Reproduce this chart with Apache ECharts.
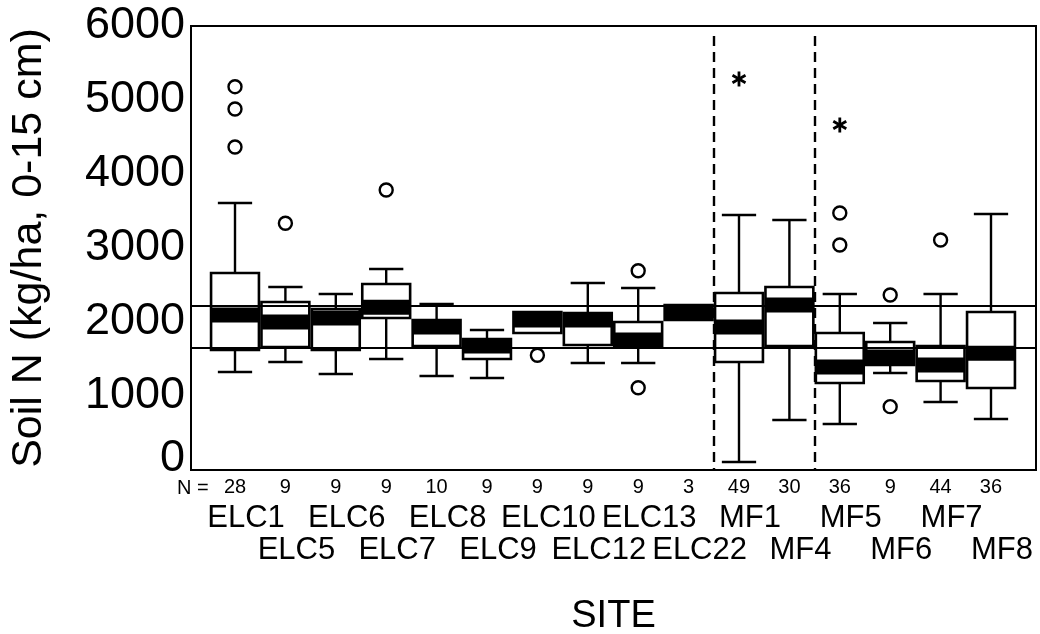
<!DOCTYPE html>
<html><head><meta charset="utf-8">
<script src="https://cdn.jsdelivr.net/npm/echarts@6/dist/echarts.min.js"></script>
<style>html,body{margin:0;padding:0;background:#fff}#c{width:1040px;height:634px}</style>
</head><body><div id="c"></div>
<script>
// ---- data ----
const sites = ['ELC1','ELC5','ELC6','ELC7','ELC8','ELC9','ELC10','ELC12','ELC13','ELC22','MF1','MF4','MF5','MF6','MF7','MF8'];
const nCounts = [28, 9, 9, 9, 10, 9, 9, 9, 9, 3, 49, 30, 36, 9, 44, 36];
const whiskerLow  = [1324, 1459, 1297, 1500, 1270, 1243, 1851, 1446, 1446, 2027,  108,  676,  622, 1311,  919,  689];
const q1          = [1622, 1662, 1622, 2054, 1676, 1500, 1851, 1689, 1662, 2027, 1459, 1676, 1176, 1419, 1203, 1108];
const median      = [2095, 2000, 2054, 2200, 1932, 1676, 2027, 2027, 1757, 2128, 1932, 2230, 1392, 1527, 1419, 1578];
const q3          = [2662, 2270, 2176, 2514, 2027, 1770, 2135, 2122, 2000, 2230, 2392, 2473, 1851, 1730, 1676, 2135];
const whiskerHigh = [3608, 2473, 2378, 2716, 2243, 1892, 2135, 2527, 2459, 2230, 3446, 3378, 2378, 1986, 2378, 3459];
// outliers (circles) and extremes (stars)
const outlierSite  = ['ELC1','ELC1','ELC1','ELC5','ELC7','ELC10','ELC13','ELC13','MF5','MF5','MF6','MF6','MF7'];
const outlierValue = [5180, 4878, 4365, 3334, 3784, 1550, 2693, 1112, 3473, 3041, 2365, 856, 3108];
const extremeSite  = ['MF1','MF5'];
const extremeValue = [5284, 4662];
// horizontal reference lines
const refLines = [2216, 1649];
// dashed group separators come after these sites
const groupBreakAfter = ['ELC22','MF4'];
const yTicks = [0, 1000, 2000, 3000, 4000, 5000, 6000];
const yTitle = 'Soil N (kg/ha, 0-15 cm)';
const xTitle = 'SITE';

// ---- chart ----
const FONT = "'Liberation Sans', Arial, sans-serif";
const chart = echarts.init(document.getElementById('c'));
const idx = sites.map((s, i) => i);
const boxData = sites.map((s, i) => [i, whiskerLow[i], q1[i], median[i], q3[i], whiskerHigh[i]]);
const outlierData = outlierSite.map((s, k) => [sites.indexOf(s), outlierValue[k]]);
const extremeData = extremeSite.map((s, k) => [sites.indexOf(s), extremeValue[k]]);
const breaks = groupBreakAfter.map(s => sites.indexOf(s) + 0.5);

function renderBox(params, api) {
  const i = api.value(0);
  const lo = api.coord([i, api.value(1)]);
  const pq1 = api.coord([i, api.value(2)]);
  const pm = api.coord([i, api.value(3)]);
  const pq3 = api.coord([i, api.value(4)]);
  const hi = api.coord([i, api.value(5)]);
  const band = api.size([1, 0])[0];
  const bw = band * 0.95, cw = band * 0.68;
  const x = pm[0];
  const ls = { stroke: '#000', lineWidth: 2.4, fill: null };
  const ch = [];
  if (hi[1] < pq3[1] - 0.5) {
    ch.push({ type: 'line', shape: { x1: x, y1: hi[1], x2: x, y2: pq3[1] }, style: ls });
    ch.push({ type: 'line', shape: { x1: x - cw / 2, y1: hi[1], x2: x + cw / 2, y2: hi[1] }, style: ls });
  }
  if (lo[1] > pq1[1] + 0.5) {
    ch.push({ type: 'line', shape: { x1: x, y1: pq1[1], x2: x, y2: lo[1] }, style: ls });
    ch.push({ type: 'line', shape: { x1: x - cw / 2, y1: lo[1], x2: x + cw / 2, y2: lo[1] }, style: ls });
  }
  ch.push({ type: 'rect', shape: { x: x - bw / 2, y: pq3[1], width: bw, height: pq1[1] - pq3[1] },
    style: { fill: '#fff', stroke: '#000', lineWidth: 2.6 } });
  const h = 15;
  const top = Math.max(pm[1] - h / 2, pq3[1]);
  const bot = Math.min(pm[1] + h / 2, pq1[1]);
  ch.push({ type: 'rect', shape: { x: x - bw / 2, y: top, width: bw, height: bot - top }, style: { fill: '#000' } });
  return { type: 'group', children: ch };
}

function renderStar(params, api) {
  const p = api.coord([api.value(0), api.value(1)]);
  const r = 7.5;
  const ch = [];
  for (let k = 0; k < 3; k++) {
    const a = Math.PI / 2 + k * Math.PI / 3;
    ch.push({ type: 'line', shape: { x1: p[0] - r * Math.cos(a), y1: p[1] - r * Math.sin(a), x2: p[0] + r * Math.cos(a), y2: p[1] + r * Math.sin(a) },
      style: { stroke: '#000', lineWidth: 2.8 } });
  }
  return { type: 'group', children: ch };
}

function labelAxis(values, margin, fmt, rich, extra) {
  return Object.assign({
    type: 'value', min: -0.873, max: 15.893, position: 'bottom',
    splitLine: { show: false }, axisLine: { show: false }, axisTick: { show: false },
    axisLabel: {
      customValues: values, margin: margin, color: '#000', fontFamily: FONT,
      showMinLabel: true, showMaxLabel: true, hideOverlap: false,
      formatter: fmt, rich: rich
    }
  }, extra || {});
}

const nameRich = { a: { fontSize: 31, lineHeight: 32, fontFamily: FONT, color: '#000', padding: [0, 0, 0, 22] } };

chart.setOption({
  animation: false,
  backgroundColor: '#fff',
  grid: { left: 191, right: 4, top: 26, bottom: 164, show: true, borderColor: '#000', borderWidth: 2,
    backgroundColor: 'transparent', containLabel: false, outerBoundsMode: 'none' },
  xAxis: [
    labelAxis(idx, 4, v => `{n|${nCounts[Math.round(v)]}}`,
      { n: { fontSize: 20, lineHeight: 26, fontFamily: FONT, color: '#000' } },
      { name: xTitle, nameLocation: 'middle', nameGap: 128, nameTextStyle: { fontSize: 38, fontFamily: FONT, color: '#000' } }),
    labelAxis(idx.filter(i => i % 2 === 0), 32, v => `{a|${sites[Math.round(v)]}}`, nameRich),
    labelAxis(idx.filter(i => i % 2 === 1), 64, v => `{a|${sites[Math.round(v)]}}`, nameRich)
  ],
  yAxis: {
    type: 'value', min: 0, max: 6000, interval: 1000,
    splitLine: { show: false }, axisLine: { show: false }, axisTick: { show: false },
    axisLabel: {
      customValues: yTicks, fontSize: 45, color: '#000', fontFamily: FONT, margin: 6,
      showMinLabel: true, showMaxLabel: true,
      formatter: v => v === 0 ? '{z|0}' : String(v),
      rich: { z: { fontSize: 45, fontFamily: FONT, color: '#000', padding: [0, 0, 22, 0] } }
    },
    name: yTitle, nameLocation: 'middle', nameRotate: 90, nameGap: 140,
    nameTextStyle: { fontSize: 43, fontFamily: FONT, color: '#000' }
  },
  graphic: [{ type: 'text', left: 177, top: 478, style: { text: 'N =', fontSize: 20, fontFamily: FONT, fill: '#000' } }],
  series: [
    { type: 'custom', name: 'box', renderItem: renderBox, data: boxData, z: 2, xAxisIndex: 0, encode: { x: 0, y: [1, 2, 3, 4, 5] } },
    {
      type: 'scatter', name: 'outliers', data: outlierData, z: 4, xAxisIndex: 0, symbol: 'circle', symbolSize: 13,
      itemStyle: { color: '#fff', borderColor: '#000', borderWidth: 2.4, opacity: 1 },
      markLine: {
        silent: true, symbol: ['none', 'none'], label: { show: false }, z: 3,
        data: [
          ...refLines.map(v => ({ yAxis: v, lineStyle: { type: 'solid', width: 2, color: '#000' } })),
          ...breaks.map(b => [{ coord: [b, 5865], lineStyle: { type: [10, 6], width: 2.4, color: '#000' } }, { coord: [b, 0] }])
        ]
      }
    },
    { type: 'custom', name: 'extremes', renderItem: renderStar, data: extremeData, z: 4, xAxisIndex: 0, encode: { x: 0, y: 1 } }
  ]
});
</script></body></html>
